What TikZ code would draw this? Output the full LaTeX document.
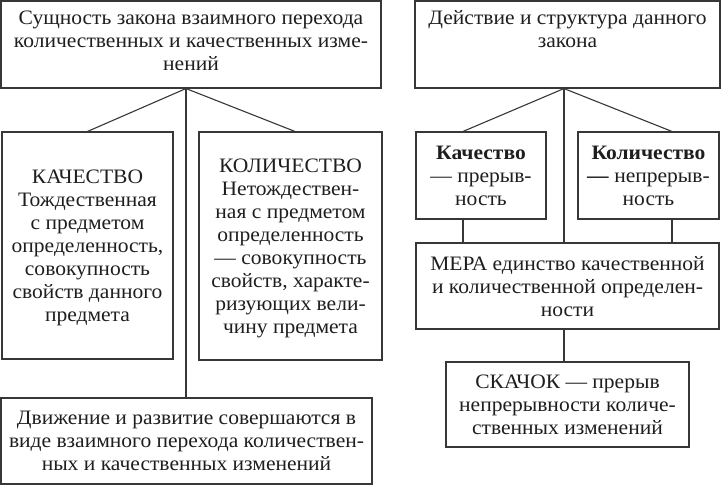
\documentclass[tikz,border=0pt]{standalone}
\usepackage{fontspec}
\setmainfont{Liberation Serif}[FakeStretch=1.05]
\usetikzlibrary{calc}
\definecolor{linec}{RGB}{55,55,55}
\definecolor{txtc}{RGB}{30,30,30}
\tikzset{
  box/.style={draw=linec, line width=1.1pt, inner sep=0pt, align=center, text=txtc,
    font=\fontsize{20.5}{23}\selectfont},
  conn/.style={draw=linec, line width=1.1pt}
}
\begin{document}
\begin{tikzpicture}[x=1pt,y=-1pt]
\useasboundingbox (0,0) rectangle (721,485);
% left side
\node[box, minimum width=380pt, minimum height=87pt, text depth=8pt] (b1) at (191,44.5)
  {Сущность закона взаимного перехода\\количественных и качественных изме-\\нений};
\node[box, minimum width=171pt, minimum height=227pt, text depth=-6pt] (b2) at (87.5,245.5)
  {КАЧЕСТВО\\Тождественная\\с предметом\\определенность,\\совокупность\\свойств данного\\предмета};
\node[box, minimum width=183pt, minimum height=228pt, text depth=-6pt] (b3) at (290.5,246)
  {КОЛИЧЕСТВО\\Нетождествен-\\ная с предметом\\определенность\\— совокупность\\свойств, характе-\\ризующих вели-\\чину предмета};
\node[box, minimum width=371pt, minimum height=86pt, text depth=-5pt] (b5) at (186.5,441)
  {Движение и развитие совершаются в\\виде взаимного перехода количествен-\\ных и качественных изменений};
% right side
\node[box, minimum width=305pt, minimum height=87pt, text depth=8pt] (b4) at (567.5,44.5)
  {Действие и структура данного\\закона\\\strut};
\node[box, minimum width=130pt, minimum height=87pt] (k) at (481,175.5)
  {\textbf{Качество}\\— прерыв-\\ность};
\node[box, minimum width=141pt, minimum height=87pt] (q) at (648.5,175.5)
  {\textbf{Количество}\\\textbf{—} непрерыв-\\ность};
\node[box, minimum width=303pt, minimum height=86pt, text depth=-4pt] (m) at (567.5,286)
  {МЕРА единство качественной\\и количественной определен-\\ности};
\node[box, minimum width=243pt, minimum height=85pt, text depth=-4pt] (s) at (567.5,404.5)
  {СКАЧОК — прерыв\\непрерывности количе-\\ственных изменений};
% connectors left
\coordinate (b1c) at ([xshift=-5pt]b1.south);
\draw[conn] (b1c) -- (b2.north);
\draw[conn] (b1c) -- ([xshift=4.5pt]b3.north);
\draw[conn] (b1c) -- (b1c |- b5.north);
% connectors right
\coordinate (b4c) at ([xshift=-3.5pt]b4.south);
\draw[conn] (b4c) -- ([xshift=-18pt]k.north);
\draw[conn] (b4c) -- ([xshift=23.5pt]q.north);
\draw[conn] (b4c) -- (b4c |- m.north);
\draw[conn] ([xshift=-18pt]k.south) -- ([xshift=-18pt]k.south |- m.north);
\draw[conn] ([xshift=23.5pt]q.south) -- ([xshift=23.5pt]q.south |- m.north);
\draw[conn] ([xshift=-3.5pt]m.south) -- ([xshift=-3.5pt]m.south |- s.north);
\end{tikzpicture}
\end{document}
